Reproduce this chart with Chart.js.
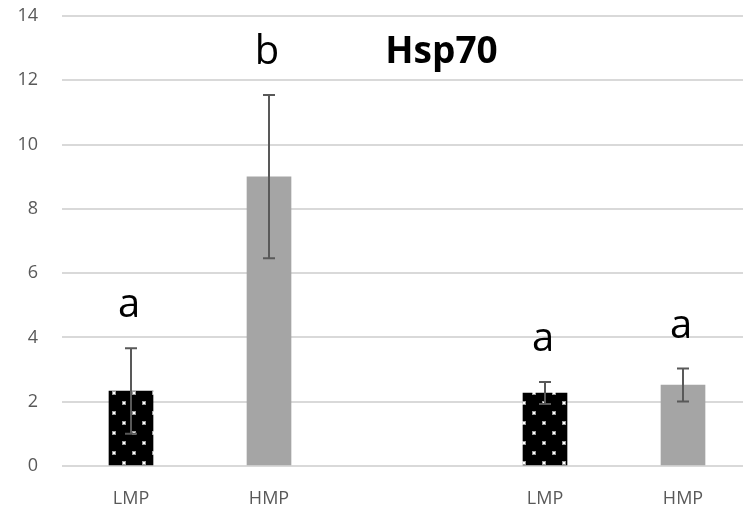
<!DOCTYPE html>
<html>
<head>
<meta charset="utf-8">
<script src="https://cdn.jsdelivr.net/npm/chart.js@4"></script>
<style>
  html, body { margin: 0; padding: 0; background: #fff; overflow: hidden; }
  #wrap { width: 752px; height: 509px; }
</style>
</head>
<body>
<div id="wrap"><canvas id="myChart" width="752" height="509"></canvas></div>
<script>
const categories = ['LMP', 'HMP', '', 'LMP', 'HMP'];
const means = [2.33, 9.0, null, 2.27, 2.52];
const errors = [1.33, 2.54, null, 0.34, 0.51];
const letters = ['a', 'b', '', 'a', 'a'];
const yTicks = [0, 2, 4, 6, 8, 10, 12, 14];

// black tile with staggered white dots
function dotPattern() {
    const c = document.createElement('canvas');
    c.width = 20;
    c.height = 20;
    const g = c.getContext('2d');
    g.fillStyle = '#000';
    g.fillRect(0, 0, 20, 20);
    g.fillStyle = '#9a9a9a';
    g.fillRect(2, 1, 4, 4);
    g.fillRect(12, 11, 4, 4);
    g.fillStyle = '#ffffff';
    g.fillRect(3, 2, 2, 2);
    g.fillRect(13, 12, 2, 2);
    return g.createPattern(c, 'repeat');
}

const ctx = document.getElementById('myChart').getContext('2d');
const pattern = dotPattern();
const colors = categories.map((c) => c === 'LMP' ? pattern : '#a5a5a5');

const errorBars = {
    id: 'errorBars',
    afterDatasetsDraw(chart) {
        const meta = chart.getDatasetMeta(0);
        const y = chart.scales.y;
        const g = chart.ctx;
        g.save();
        g.strokeStyle = '#595959';
        g.lineWidth = 2;
        meta.data.forEach((bar, i) => {
            if (means[i] == null) return;
            const top = y.getPixelForValue(means[i] + errors[i]);
            const bot = y.getPixelForValue(means[i] - errors[i]);
            g.beginPath();
            g.moveTo(bar.x, top); g.lineTo(bar.x, bot);
            g.moveTo(bar.x - 6, top); g.lineTo(bar.x + 6, top);
            g.moveTo(bar.x - 6, bot); g.lineTo(bar.x + 6, bot);
            g.stroke();
            // significance letter
            g.fillStyle = '#000';
            g.font = '40px "Open Sans"';
            g.textAlign = 'center';
            g.textBaseline = 'alphabetic';
            g.fillText(letters[i], bar.x - 2, top - 31);
        });
        // chart title
        const area = chart.chartArea;
        g.font = 'bold 37px "Open Sans"';
        g.textBaseline = 'middle';
        g.fillText('Hsp70', area.left + 0.55 * (area.right - area.left), 52);
        g.restore();
    }
};

const config = {
    type: 'bar',
    data: {
        labels: categories,
        datasets: [{
            data: means,
            backgroundColor: colors,
            barThickness: 44,
        }]
    },
    options: {
        responsive: false,
        animation: false,
        layout: { padding: { top: 16, left: 0, right: 0, bottom: 0 } },
        plugins: {
            legend: { display: false },
            tooltip: { enabled: false }
        },
        scales: {
            x: {
                grid: { display: false },
                border: { display: false },
                ticks: {
                    color: '#595959',
                    font: { family: 'Open Sans', size: 18 },
                    padding: 14
                },
                afterFit: (s) => { s.height = 43; }
            },
            y: {
                min: 0,
                max: 14,
                afterBuildTicks: (s) => { s.ticks = yTicks.map(v => ({ value: v })); },
                grid: { color: '#d9d9d9', lineWidth: 2, drawTicks: false },
                border: { display: false },
                ticks: {
                    color: '#595959',
                    font: { family: 'Open Sans', size: 18 },
                    padding: 24
                },
                afterFit: (s) => { s.width = 62; s.paddingTop = 0; }
            }
        }
    },
    plugins: [errorBars]
};

var myChart = new Chart(ctx, config);
</script>
</body>
</html>
